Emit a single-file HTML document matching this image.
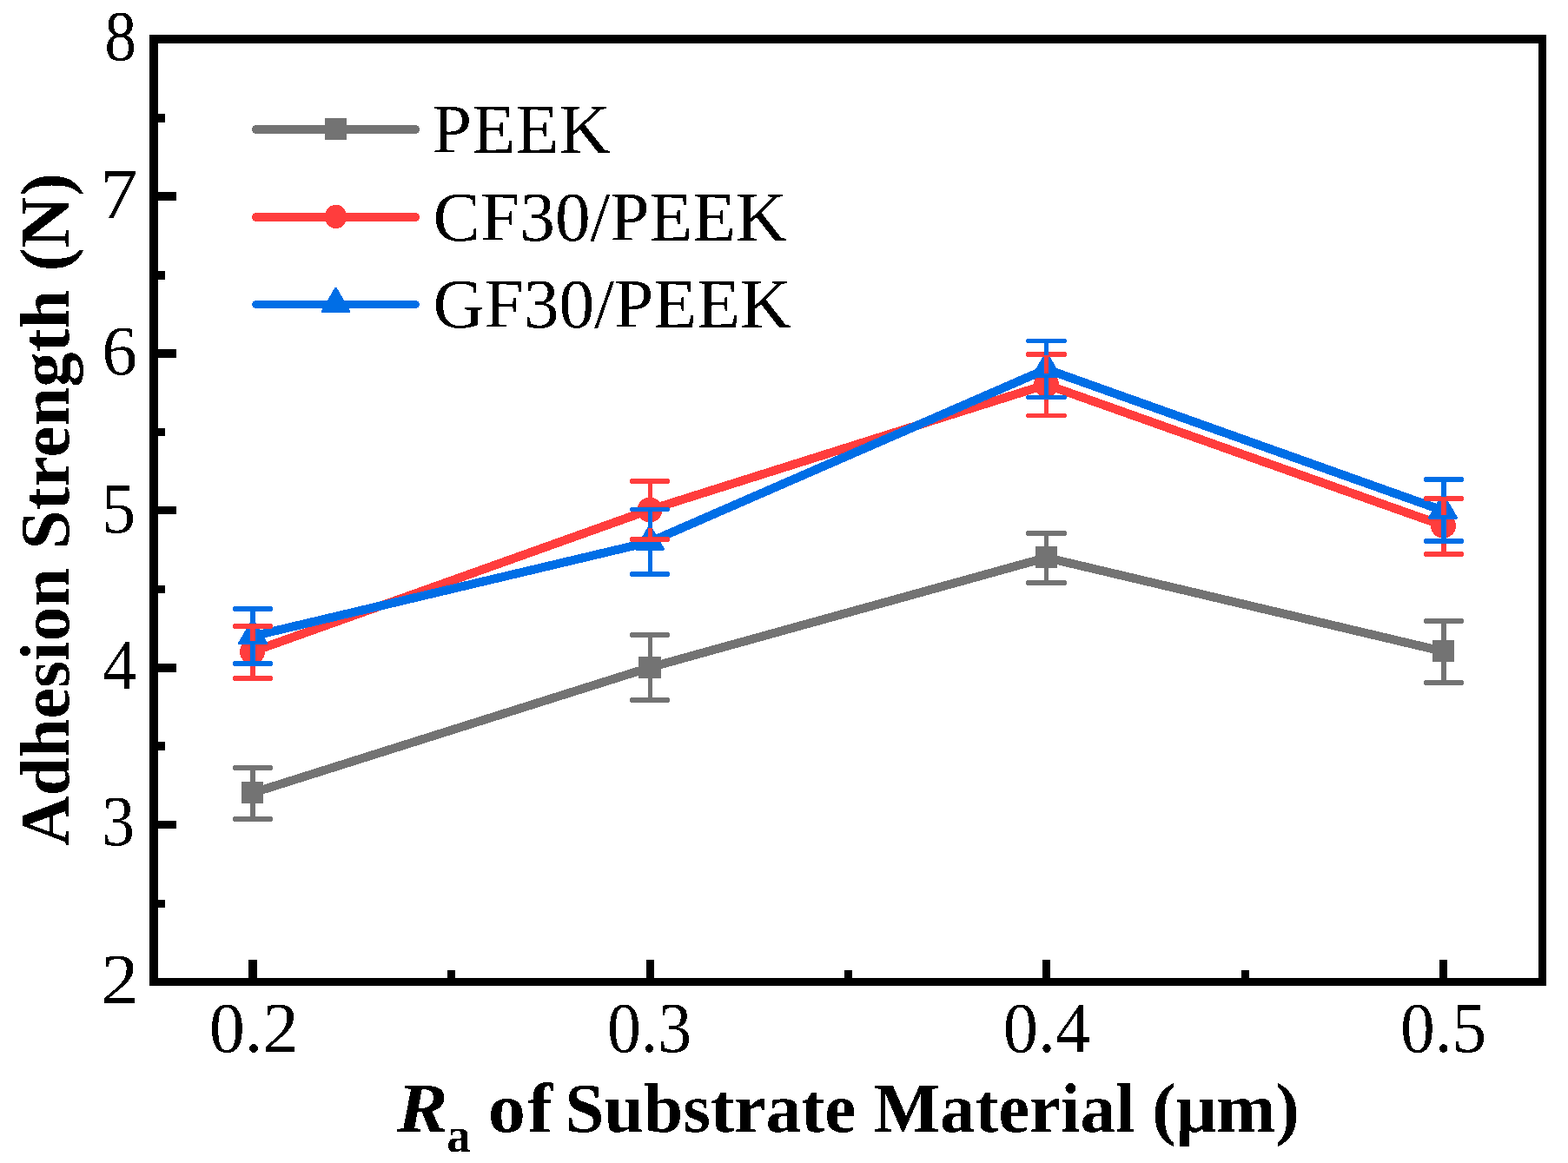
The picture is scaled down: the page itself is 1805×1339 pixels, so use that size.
<!DOCTYPE html>
<html lang="en">
<head>
<meta charset="utf-8">
<title>Adhesion Strength vs Ra of Substrate Material</title>
<style>
html,body{margin:0;padding:0;background:#fff;}
body{width:1805px;height:1339px;overflow:hidden;}
svg{display:block;}
text{font-family:"Liberation Serif",serif;fill:#000;font-size:80px;}
.b{font-weight:bold;}
.bi{font-weight:bold;font-style:italic;}
.sub{font-weight:bold;font-size:56px;}
.ls{letter-spacing:2px;}
</style>
</head>
<body>
<svg width="1805" height="1339" viewBox="0 0 1805 1339">
<rect x="0" y="0" width="1805" height="1339" fill="#ffffff"/>

<g shape-rendering="crispEdges">
<polyline points="290.5,913.0 748.0,768.5 1204.5,642.0 1661.5,750.0" fill="none" stroke="#737373" stroke-width="10" stroke-linejoin="round" stroke-linecap="round"/>
<rect x="278" y="900" width="25" height="25" rx="1.5" ry="1.5" fill="#737373"/>
<rect x="735" y="756" width="26" height="25" rx="1.5" ry="1.5" fill="#737373"/>
<rect x="1192" y="629" width="25" height="25" rx="1.5" ry="1.5" fill="#737373"/>
<rect x="1649" y="737" width="25" height="25" rx="1.5" ry="1.5" fill="#737373"/>
<polyline points="290.5,750.3 748.0,587.0 1204.5,442.8 1661.5,605.2" fill="none" stroke="#FF3D3D" stroke-width="10" stroke-linejoin="round" stroke-linecap="round"/>
<circle cx="290.5" cy="750.3" r="14.5" fill="#FF3D3D"/>
<circle cx="748.0" cy="587.0" r="14.5" fill="#FF3D3D"/>
<circle cx="1204.5" cy="442.8" r="14.5" fill="#FF3D3D"/>
<circle cx="1661.5" cy="605.2" r="14.5" fill="#FF3D3D"/>
<polyline points="290.5,732.5 748.0,624.0 1204.5,425.0 1661.5,588.0" fill="none" stroke="#006EE6" stroke-width="10" stroke-linejoin="round" stroke-linecap="round"/>
<polygon points="291,714.3 306.5,740.7 275.5,740.7" fill="#006EE6" stroke="#006EE6" stroke-width="3" stroke-linejoin="round"/>
<polygon points="748,605.8 763.5,632.2 732.5,632.2" fill="#006EE6" stroke="#006EE6" stroke-width="3" stroke-linejoin="round"/>
<polygon points="1204.5,406.8 1220.0,433.2 1189.0,433.2" fill="#006EE6" stroke="#006EE6" stroke-width="3" stroke-linejoin="round"/>
<polygon points="1661,569.8 1676.5,596.2 1645.5,596.2" fill="#006EE6" stroke="#006EE6" stroke-width="3" stroke-linejoin="round"/>
<g fill="#737373">
<rect x="288" y="881" width="6" height="21"/>
<rect x="288" y="924" width="6" height="22"/>
<rect x="268" y="881" width="46" height="6" rx="2.5" ry="2.5"/>
<rect x="268" y="940" width="46" height="6" rx="2.5" ry="2.5"/>
<rect x="746" y="728" width="5" height="30"/>
<rect x="746" y="780" width="5" height="29"/>
<rect x="725" y="728" width="46" height="6" rx="2.5" ry="2.5"/>
<rect x="725" y="803" width="46" height="6" rx="2.5" ry="2.5"/>
<rect x="1202" y="611" width="5" height="20"/>
<rect x="1202" y="653" width="5" height="21"/>
<rect x="1181" y="611" width="47" height="6" rx="2.5" ry="2.5"/>
<rect x="1181" y="668" width="47" height="6" rx="2.5" ry="2.5"/>
<rect x="1659" y="712" width="6" height="27"/>
<rect x="1659" y="761" width="6" height="28"/>
<rect x="1639" y="712" width="46" height="6" rx="2.5" ry="2.5"/>
<rect x="1639" y="783" width="46" height="6" rx="2.5" ry="2.5"/>
</g>
<g fill="#FF3D3D">
<rect x="288" y="718" width="6" height="20"/>
<rect x="288" y="763" width="6" height="21"/>
<rect x="268" y="718" width="46" height="6" rx="2.5" ry="2.5"/>
<rect x="268" y="778" width="46" height="6" rx="2.5" ry="2.5"/>
<rect x="746" y="551" width="5" height="23"/>
<rect x="746" y="600" width="5" height="24"/>
<rect x="725" y="551" width="46" height="6" rx="2.5" ry="2.5"/>
<rect x="725" y="618" width="46" height="6" rx="2.5" ry="2.5"/>
<rect x="1202" y="405" width="5" height="25"/>
<rect x="1202" y="455" width="5" height="26"/>
<rect x="1181" y="405" width="47" height="6" rx="2.5" ry="2.5"/>
<rect x="1181" y="476" width="47" height="5" rx="2.5" ry="2.5"/>
<rect x="1659" y="571" width="6" height="22"/>
<rect x="1659" y="618" width="6" height="23"/>
<rect x="1639" y="571" width="46" height="6" rx="2.5" ry="2.5"/>
<rect x="1639" y="635" width="46" height="6" rx="2.5" ry="2.5"/>
</g>
<g fill="#006EE6">
<rect x="288" y="698" width="6" height="18"/>
<rect x="288" y="738" width="6" height="29"/>
<rect x="268" y="698" width="46" height="6" rx="2.5" ry="2.5"/>
<rect x="268" y="761" width="46" height="6" rx="2.5" ry="2.5"/>
<rect x="746" y="584" width="5" height="24"/>
<rect x="746" y="630" width="5" height="34"/>
<rect x="725" y="584" width="46" height="5" rx="2.5" ry="2.5"/>
<rect x="725" y="658" width="46" height="6" rx="2.5" ry="2.5"/>
<rect x="1202" y="390" width="5" height="19"/>
<rect x="1202" y="431" width="5" height="29"/>
<rect x="1181" y="390" width="47" height="5" rx="2.5" ry="2.5"/>
<rect x="1181" y="455" width="47" height="5" rx="2.5" ry="2.5"/>
<rect x="1659" y="549" width="6" height="23"/>
<rect x="1659" y="594" width="6" height="32"/>
<rect x="1639" y="549" width="46" height="6" rx="2.5" ry="2.5"/>
<rect x="1639" y="620" width="46" height="6" rx="2.5" ry="2.5"/>
</g>
</g>
<g shape-rendering="crispEdges">
<rect x="290" y="144" width="193" height="10" rx="5" ry="5" fill="#737373"/>
<rect x="374.0" y="136.0" width="25" height="25" rx="1.5" ry="1.5" fill="#737373"/>
<rect x="290" y="245" width="193" height="10" rx="5" ry="5" fill="#FF3D3D"/>
<ellipse cx="386.6" cy="249.5" rx="12.7" ry="13.7" fill="#FF3D3D"/>
<rect x="290" y="346" width="193" height="9" rx="5" ry="5" fill="#006EE6"/>
<polygon points="386.5,332.3 402.0,358.7 371.0,358.7" fill="#006EE6" stroke="#006EE6" stroke-width="3" stroke-linejoin="round"/>
</g>
<g shape-rendering="crispEdges" fill="#000">
<rect x="172" y="40" width="10" height="1095"/>
<rect x="172" y="40" width="1608" height="10"/>
<rect x="1771" y="40" width="9" height="1095"/>
<rect x="172" y="1126" width="1608" height="9"/>
<rect x="182" y="131" width="8" height="10"/>
<rect x="182" y="221" width="21" height="10"/>
<rect x="182" y="312" width="8" height="10"/>
<rect x="182" y="402" width="21" height="10"/>
<rect x="182" y="493" width="8" height="9"/>
<rect x="182" y="583" width="21" height="9"/>
<rect x="182" y="674" width="8" height="9"/>
<rect x="182" y="764" width="21" height="10"/>
<rect x="182" y="854" width="8" height="10"/>
<rect x="182" y="945" width="21" height="9"/>
<rect x="182" y="1036" width="8" height="9"/>
<rect x="286" y="1105" width="10" height="21"/>
<rect x="515" y="1117" width="9" height="9"/>
<rect x="744" y="1105" width="9" height="21"/>
<rect x="972" y="1117" width="9" height="9"/>
<rect x="1200" y="1105" width="9" height="21"/>
<rect x="1429" y="1117" width="9" height="9"/>
<rect x="1657" y="1105" width="9" height="21"/>
</g>
<filter id="bw" x="0" y="0" width="1805" height="1339" filterUnits="userSpaceOnUse" color-interpolation-filters="sRGB"><feComponentTransfer><feFuncA type="discrete" tableValues="0 1"/></feComponentTransfer></filter>
<g filter="url(#bw)">
<g id="legend">
<text transform="translate(497.59,176.00) scale(1.0259,1.0000)">PEEK</text>
<text transform="translate(498.59,276.80) scale(1.0179,1.0000)">CF30/PEEK</text>
<text transform="translate(498.59,376.80) scale(1.0192,1.0000)">GF30/PEEK</text>
</g>
<g id="xtitle">
<text class="bi" transform="translate(457.10,1302.80) scale(1.0985,1.0000)">R</text>
<text class="sub" transform="translate(514.29,1325.60) scale(0.9765,1.0000)">a</text>
<text class="b ls" transform="translate(561.76,1302.80) scale(1.0812,1.0000)">of</text>
<text class="b" transform="translate(650.27,1302.80) scale(1.0195,1.0000)">Substrate</text>
<text class="b" transform="translate(1005.64,1302.80) scale(1.0108,1.0000)">Material</text>
<text class="b" transform="translate(1326.31,1302.80) scale(1.0256,1.0000)">(μm)</text>
</g>
<g id="ytitle">
<text class="b" transform="translate(79.40,974.05) rotate(-90) scale(0.9995,1.0000)">Adhesion</text>
<text class="b" transform="translate(79.40,632.49) rotate(-90) scale(1.0084,1.0000)">Strength</text>
<text class="b" transform="translate(79.40,312.47) rotate(-90) scale(1.0202,1.0000)">(N)</text>
</g>
<g id="yticks">
<text transform="translate(120.14,69.23) scale(0.9206,1.0222)">8</text>
<text transform="translate(115.11,250.70) scale(1.0831,1.0248)">7</text>
<text transform="translate(117.24,430.94) scale(1.0176,1.0121)">6</text>
<text transform="translate(117.04,612.63) scale(0.9812,1.0272)">5</text>
<text transform="translate(118.24,793.30) scale(0.9745,1.0313)">4</text>
<text transform="translate(117.24,973.43) scale(0.9485,1.0326)">3</text>
<text transform="translate(116.55,1155.00) scale(1.0719,1.0189)">2</text>
</g>
<g id="xticks">
<text transform="translate(240.71,1211.08) scale(1.0292,1.0194)">0.2</text>
<text transform="translate(698.88,1211.08) scale(0.9739,1.0194)">0.3</text>
<text transform="translate(1154.79,1211.08) scale(1.0047,1.0194)">0.4</text>
<text transform="translate(1611.92,1211.08) scale(0.9931,1.0194)">0.5</text>
</g>
</g>
</svg>
</body>
</html>
